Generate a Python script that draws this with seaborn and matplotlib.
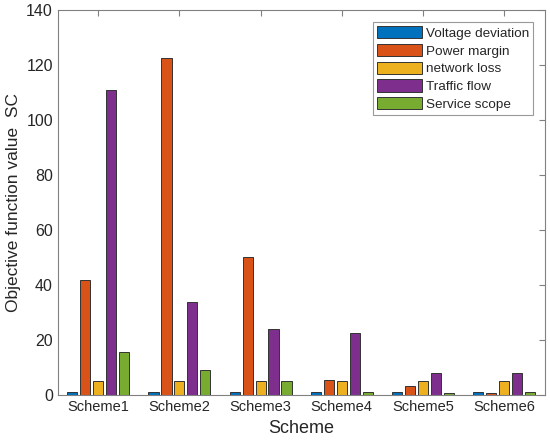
import pandas as pd
import matplotlib
matplotlib.use("Agg")
import matplotlib.pyplot as plt
import seaborn as sns

# values
schemes = ["Scheme1", "Scheme2", "Scheme3", "Scheme4", "Scheme5", "Scheme6"]
indicators = ["Voltage deviation", "Power margin", "network loss", "Traffic flow", "Service scope"]
voltage_deviation = [1.2, 1.2, 1.2, 1.2, 1.2, 1.2]
power_margin = [42.0, 122.5, 50.3, 5.5, 3.4, 0.8]
network_loss = [5.0, 5.0, 5.0, 5.2, 5.2, 5.0]
traffic_flow = [111.0, 34.0, 24.0, 22.7, 8.2, 8.2]
service_scope = [15.5, 9.0, 5.2, 1.0, 0.6, 1.0]

colors = ["#0072BD", "#D95319", "#EDB120", "#7E2F8E", "#77AC30"]

series = [voltage_deviation, power_margin, network_loss, traffic_flow, service_scope]
rows = []
for name, vals in zip(indicators, series):
    for s, v in zip(schemes, vals):
        rows.append({"Scheme": s, "Indicator": name, "Value": v})
df = pd.DataFrame(rows)

sns.set_style("white")
plt.rcParams["font.family"] = ["Liberation Sans", "DejaVu Sans"]

fig, ax = plt.subplots(figsize=(5.5, 4.48), dpi=100)
fig.subplots_adjust(left=0.105, right=0.99, top=0.978, bottom=0.118)

sns.barplot(data=df, x="Scheme", y="Value", hue="Indicator", order=schemes,
            hue_order=indicators, palette=colors, width=0.8, gap=0.22,
            edgecolor="#333333", linewidth=0.7, saturation=1, ax=ax)

ax.set_xlim(-0.5, 5.5)
ax.set_ylim(0, 140)
ax.set_yticks(range(0, 141, 20))
ax.set_xlabel("Scheme", fontsize=13, color="#262626")
ax.set_ylabel("Objective function value  SC", fontsize=12.5, color="#262626")
ax.tick_params(axis="both", direction="in", top=True, right=True, length=4,
               color="#808080", labelcolor="#262626")
ax.tick_params(axis="x", labelsize=10.5)
ax.tick_params(axis="y", labelsize=11.5)
for sp in ax.spines.values():
    sp.set_color("#808080")
    sp.set_linewidth(0.8)

leg = ax.legend(loc="upper right", bbox_to_anchor=(0.99, 0.985), fontsize=9.7,
                frameon=True, fancybox=False, edgecolor="#808080",
                handlelength=3.3, handleheight=1.0, labelspacing=0.3,
                borderpad=0.3, handletextpad=0.3)
leg.get_frame().set_linewidth(0.8)

fig.savefig("out.png", dpi=100)
